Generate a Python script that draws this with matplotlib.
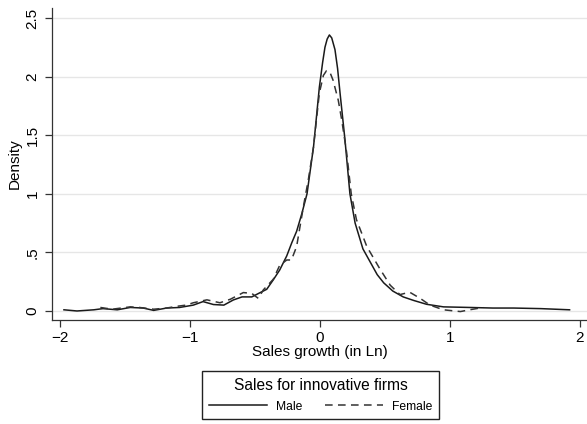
import matplotlib.pyplot as plt

plt.rcParams['font.family'] = ['Liberation Sans', 'DejaVu Sans']

# kernel density estimates
male_x = [-1.97, -1.87, -1.74, -1.67, -1.56, -1.46, -1.36, -1.28, -1.18, -1.08,
          -0.975, -0.90, -0.82, -0.74, -0.667, -0.60, -0.525, -0.46, -0.41, -0.36,
          -0.31, -0.256, -0.218, -0.18, -0.14, -0.10, -0.05, -0.005, 0.02, 0.038,
          0.055, 0.072, 0.09, 0.115, 0.135, 0.154, 0.192, 0.23, 0.27, 0.33,
          0.385, 0.44, 0.49, 0.56, 0.64, 0.72, 0.82, 0.95, 1.15, 1.33,
          1.49, 1.70, 1.92]
male_y = [0.01, 0.0, 0.01, 0.02, 0.01, 0.03, 0.025, 0.005, 0.025, 0.03,
          0.05, 0.08, 0.055, 0.05, 0.094, 0.12, 0.12, 0.157, 0.185, 0.265,
          0.35, 0.47, 0.58, 0.68, 0.83, 1.0, 1.40, 1.91, 2.12, 2.25,
          2.32, 2.355, 2.33, 2.23, 2.07, 1.86, 1.46, 1.0, 0.75, 0.53,
          0.42, 0.31, 0.24, 0.17, 0.12, 0.09, 0.057, 0.035, 0.03, 0.025,
          0.025, 0.02, 0.01]

female_x = [-1.69, -1.60, -1.46, -1.39, -1.28, -1.18, -1.10, -1.03, -0.975, -0.87,
            -0.77, -0.69, -0.59, -0.525, -0.49, -0.475, -0.436, -0.36, -0.31, -0.256,
            -0.22, -0.18, -0.128, -0.09, -0.05, -0.005, 0.026, 0.05, 0.075, 0.10,
            0.14, 0.167, 0.205, 0.24, 0.28, 0.36, 0.46, 0.54, 0.615, 0.69,
            0.77, 0.846, 0.95, 1.08, 1.15, 1.256]
female_y = [0.03, 0.015, 0.035, 0.03, 0.015, 0.025, 0.04, 0.05, 0.07, 0.095,
            0.07, 0.10, 0.157, 0.15, 0.12, 0.108, 0.18, 0.27, 0.39, 0.435,
            0.435, 0.55, 0.89, 1.12, 1.40, 1.86, 2.01, 2.05, 2.04, 1.97,
            1.80, 1.63, 1.35, 1.0, 0.78, 0.55, 0.36, 0.22, 0.14, 0.16,
            0.108, 0.05, 0.01, -0.005, 0.01, 0.03]

x_ticks = [-2, -1, 0, 1, 2]
y_ticks = [0, 0.5, 1, 1.5, 2, 2.5]
y_labels = ['0', '.5', '1', '1.5', '2', '2.5']

fig = plt.figure(figsize=(5.87, 4.24), dpi=100)
ax = fig.add_axes([52 / 587, 1 - 320 / 424, 1 - 52 / 587, (320 - 8) / 424])

ax.plot(male_x, male_y, color='#1a1a1a', lw=1.1, label='Male')
ax.plot(female_x, female_y, color='#333333', lw=1.1, dashes=(5, 3.5), label='Female')

ax.set_xlim(-2.062, 2.054)
ax.set_ylim(-0.077, 2.585)
ax.set_xticks(x_ticks)
ax.set_yticks(y_ticks)
ax.set_yticklabels(y_labels, rotation=90, va='center')
ax.tick_params(direction='out', length=5, width=0.9, color='#333333', labelsize=11, pad=3)
ax.tick_params(axis='y', pad=4)
ax.grid(axis='y', color='#e6e6e6', lw=1)
ax.set_axisbelow(True)
for side in ['top', 'right']:
    ax.spines[side].set_visible(False)
for side in ['left', 'bottom']:
    ax.spines[side].set_color('#333333')
    ax.spines[side].set_linewidth(0.9)

ax.set_xlabel('Sales growth (in Ln)', fontsize=11, labelpad=0)
ax.set_ylabel('Density', fontsize=11, labelpad=3)

leg = fig.legend(loc='upper center', bbox_to_anchor=(320.7 / 587, 1 - 371 / 424), ncol=2,
                 title='Sales for innovative firms', title_fontsize=11.2, fontsize=8.7,
                 handlelength=4.8, columnspacing=1.8, fancybox=False,
                 edgecolor='#222222', framealpha=1, borderpad=0.55, borderaxespad=0,
                 labelspacing=0.65, handletextpad=0.8)
leg.get_frame().set_linewidth(1.0)

fig.savefig('out.png', dpi=100)
